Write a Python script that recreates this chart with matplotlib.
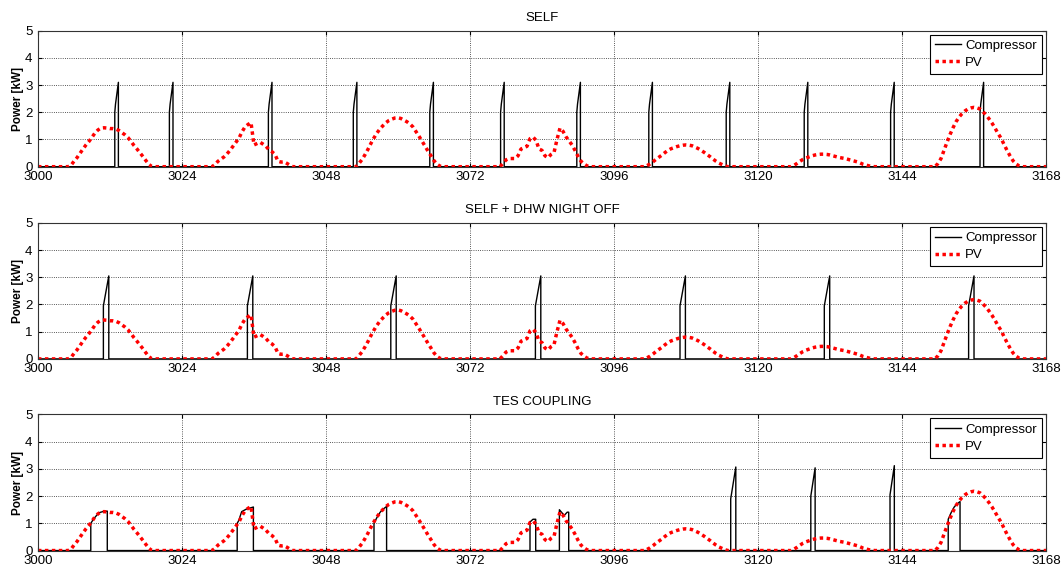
import numpy as np
import matplotlib.pyplot as plt

plt.rcParams['font.family'] = ['Liberation Sans', 'DejaVu Sans']

# hour of the simulation, x axis range
t_start = 3000
t_end = 3168
x_ticks = [3000, 3024, 3048, 3072, 3096, 3120, 3144, 3168]
y_ticks = [0, 1, 2, 3, 4, 5]

titles = ["SELF", "SELF + DHW NIGHT OFF", "TES COUPLING"]

# PV production, half-hour samples from 05:00 to 20:00 of each day
pv_day_hours = np.arange(5.0, 20.5, 0.5)
day_starts = [3000, 3024, 3048, 3072, 3096, 3120, 3144]
pv_day1 = [0, 0.05, 0.2, 0.33, 0.49, 0.65, 0.8, 0.93, 1.08, 1.24, 1.35, 1.42, 1.43, 1.42, 1.4, 1.4,
           1.38, 1.33, 1.25, 1.17, 1.07, 0.93, 0.78, 0.65, 0.51, 0.37, 0.22, 0.08, 0, 0, 0]
pv_day2 = [0, 0.08, 0.2, 0.28, 0.36, 0.47, 0.6, 0.75, 0.9, 1.05, 1.28, 1.46, 1.55, 1.62, 0.8, 0.85,
           0.9, 0.83, 0.75, 0.62, 0.55, 0.45, 0.2, 0.17, 0.18, 0.12, 0.05, 0, 0, 0, 0]
pv_day3 = [0, 0.12, 0.26, 0.44, 0.64, 0.86, 1.06, 1.24, 1.39, 1.51, 1.62, 1.7, 1.75, 1.79, 1.8, 1.77,
           1.71, 1.65, 1.57, 1.46, 1.29, 1.12, 0.94, 0.76, 0.57, 0.4, 0.22, 0.09, 0.02, 0, 0]
pv_day4 = [0, 0.12, 0.25, 0.3, 0.3, 0.3, 0.4, 0.65, 0.7, 0.75, 1.03, 1.09, 0.97, 0.65, 0.6, 0.4,
           0.33, 0.45, 0.52, 1.0, 1.42, 1.3, 1.1, 0.95, 0.8, 0.6, 0.38, 0.2, 0.1, 0.03, 0]
pv_day5 = [0, 0.04, 0.1, 0.18, 0.27, 0.35, 0.43, 0.52, 0.6, 0.66, 0.7, 0.74, 0.77, 0.79, 0.8, 0.79,
           0.77, 0.72, 0.67, 0.6, 0.53, 0.45, 0.37, 0.28, 0.2, 0.13, 0.08, 0.03, 0, 0, 0]
pv_day6 = [0, 0, 0.05, 0.12, 0.2, 0.27, 0.32, 0.36, 0.4, 0.43, 0.45, 0.46, 0.46, 0.45, 0.43, 0.4,
           0.37, 0.34, 0.32, 0.3, 0.27, 0.24, 0.21, 0.18, 0.14, 0.09, 0.06, 0.03, 0.01, 0, 0]
pv_day7 = [0, 0, 0.12, 0.3, 0.6, 0.9, 1.18, 1.43, 1.65, 1.82, 1.95, 2.05, 2.12, 2.16, 2.18, 2.16,
           2.12, 2.02, 1.9, 1.76, 1.6, 1.42, 1.22, 1.05, 0.82, 0.6, 0.4, 0.22, 0.1, 0.03, 0]
pv_days = [pv_day1, pv_day2, pv_day3, pv_day4, pv_day5, pv_day6, pv_day7]

# compressor cycles: start hour, hours into the cycle, kW at those hours
self_start = [3012.8, 3021.9, 3038.4, 3052.55, 3065.3, 3077.1, 3089.8, 3101.8,
              3114.7, 3127.7, 3142.1, 3157.0]
self_cycle_h = [0, 0.12, 0.6]
self_cycle_kw = [2.0, 2.3, 3.1]

dhw_start = [3010.9, 3034.9, 3058.8, 3082.9, 3107.0, 3131.05, 3155.1]
dhw_cycle_h = [0, 0.9]
dhw_cycle_kw = [1.95, 3.05]

tes_start = [3008.8, 3033.2, 3056.0, 3082.0, 3086.9, 3115.45, 3128.8, 3142.0, 3151.7]
tes_cycle_h = [[0, 0.5, 1.0, 1.5, 2.0, 2.75],
               [0, 0.25, 0.75, 1.5, 2.7],
               [0, 0.5, 1.0, 1.5, 2.1],
               [0, 0.5, 0.95],
               [0, 0.8, 1.3, 1.55],
               [0, 0.85],
               [0, 0.72],
               [0, 0.72],
               [0, 0.5, 1.0, 1.5, 1.97]]
tes_cycle_kw = [[1.0, 1.17, 1.3, 1.4, 1.43, 1.45],
                [1.0, 1.1, 1.43, 1.52, 1.6],
                [1.0, 1.22, 1.4, 1.52, 1.62],
                [1.05, 1.15, 1.15],
                [1.5, 1.29, 1.41, 1.41],
                [1.9, 3.07],
                [2.0, 3.04],
                [2.05, 3.12],
                [1.15, 1.4, 1.6, 1.72, 1.8]]


def compressor_series(starts, hours, kws):
    t = [t_start]
    kw = [0]
    for s, hh, vv in zip(starts, hours, kws):
        t += [s] + [s + h for h in hh] + [s + hh[-1]]
        kw += [0] + list(vv) + [0]
    t.append(t_end)
    kw.append(0)
    return t, kw


pv_t = [t_start]
pv_kw = [0]
for d0, vals in zip(day_starts, pv_days):
    pv_t += list(d0 + pv_day_hours)
    pv_kw += vals
pv_t.append(t_end)
pv_kw.append(0)

comp = [
    compressor_series(self_start, [self_cycle_h] * len(self_start), [self_cycle_kw] * len(self_start)),
    compressor_series(dhw_start, [dhw_cycle_h] * len(dhw_start), [dhw_cycle_kw] * len(dhw_start)),
    compressor_series(tes_start, tes_cycle_h, tes_cycle_kw),
]

fig = plt.figure(figsize=(10.64, 5.67), dpi=100)
bottoms = [0.706, 0.367, 0.029]

for i in range(3):
    ax = fig.add_axes([0.0357, bottoms[i], 0.9474, 0.240])
    ct, ckw = comp[i]
    ax.plot(ct, ckw, '-', color='k', lw=1.0, label='Compressor')
    ax.plot(pv_t, pv_kw, color='red', lw=2.5, linestyle=(0, (1, 1)), label='PV')

    ax.set_xlim(t_start, t_end)
    ax.set_ylim(0, 5)
    ax.set_xticks(x_ticks)
    ax.set_yticks(y_ticks)
    ax.grid(True, color='#222222', linestyle=':', linewidth=0.6)
    ax.tick_params(direction='in', length=3, labelsize=9.5, top=True, right=True)
    ax.tick_params(axis='x', pad=3)
    ax.tick_params(axis='y', pad=4)
    for sp in ax.spines.values():
        sp.set_color('#333333')
        sp.set_linewidth(0.8)
    ax.set_title(titles[i], fontsize=9.5, pad=7)
    ax.set_ylabel('Power [kW]', fontsize=8.5, fontweight='bold', labelpad=1)

    leg = ax.legend(loc='upper right', fontsize=9.5, fancybox=False, framealpha=1,
                    borderaxespad=0.3, borderpad=0.4, labelspacing=0.35,
                    handletextpad=0.3, handlelength=2.0)
    leg.get_frame().set_edgecolor('k')
    leg.get_frame().set_linewidth(0.8)

fig.savefig('out.png', dpi=100)
